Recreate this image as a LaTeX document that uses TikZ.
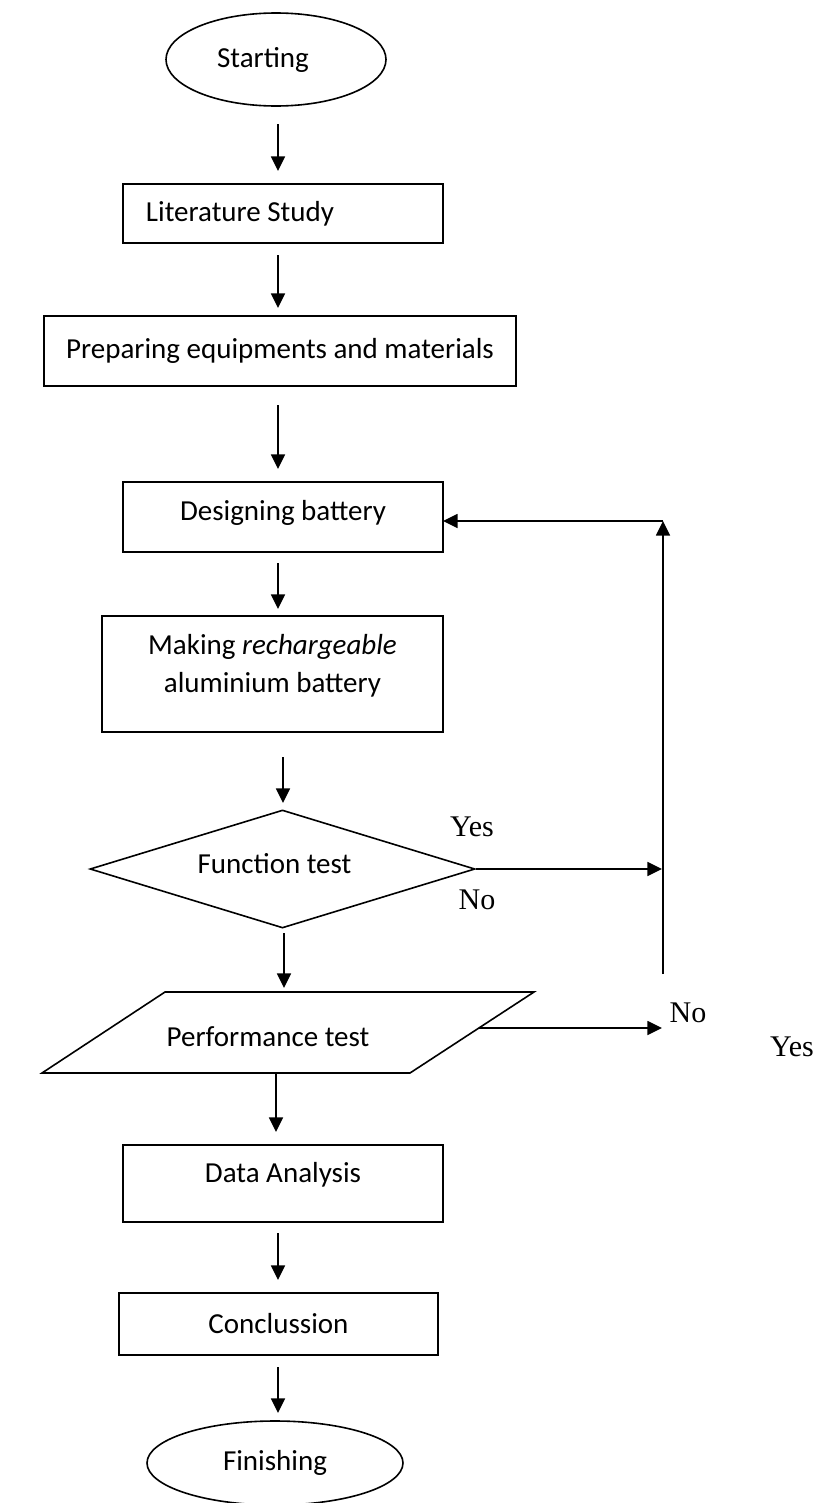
\documentclass[tikz,border=0pt]{standalone}
\usepackage{fontspec}
\setmainfont{Carlito}
\newfontfamily\tnr{Liberation Serif}
\usetikzlibrary{shapes.geometric,arrows.meta}
\begin{document}
\begin{tikzpicture}[x=0.75pt,y=-0.75pt,
  every node/.style={font=\fontsize{21.75}{28.5}\selectfont},
  box/.style={draw,line width=1.2pt,rectangle,inner sep=0pt},
  oval/.style={draw,line width=1.2pt,ellipse,inner sep=0pt},
  dia/.style={draw,line width=1.2pt,diamond,inner sep=0pt},
  arr/.style={line width=1.2pt,-{Triangle[length=11pt,width=10.5pt]}},
  ln/.style={line width=1.2pt},
  yn/.style={font=\tnr\fontsize{22.5}{27}\selectfont, inner sep=0pt}]
\useasboundingbox (0,0) rectangle (819,1503);

% nodes
\node[oval,minimum width=165pt,minimum height=69.75pt,label={[xshift=-9.75pt]center:Starting}] (start) at (276,59.5) {};
\node[box,minimum width=240pt,minimum height=44.25pt,label={[xshift=-32.25pt]center:Literature Study}] (lit) at (283,213.5) {};
\node[box,minimum width=354pt,minimum height=52.5pt] (prep) at (280,351) {Preparing equipments and materials};
\node[box,minimum width=240pt,minimum height=52.5pt,label={[yshift=3pt]center:Designing battery}] (des) at (283,517) {};
\node[box,minimum width=255.75pt,minimum height=87pt,label={[align=center,yshift=6pt]center:Making \textit{rechargeable}\\aluminium battery}] (make) at (272.5,674) {};
\node[dia,minimum width=288.75pt,minimum height=88.5pt,label={[xshift=-6pt,yshift=3.75pt]center:Function test}] (func) at (282.5,869) {};
\coordinate (p1) at (165,992);
\coordinate (p2) at (534,992);
\coordinate (p3) at (410,1073);
\coordinate (p4) at (42,1073);
\draw[ln] (p1) -- (p2) -- (p3) -- (p4) -- cycle;
\node[inner sep=0pt] (perf) at (268,1037) {Performance test};
\node[box,minimum width=240pt,minimum height=57.75pt,label={[yshift=6.4pt]center:Data Analysis}] (data) at (283,1183.5) {};
\node[box,minimum width=239.25pt,minimum height=46.5pt] (concl) at (278.5,1324) {Conclussion};
\node[oval,minimum width=192pt,minimum height=63pt] (fin) at (275,1463) {Finishing};

% labels
\node[yn] (yes1) at (472,827) {Yes};
\node[yn] (no1) at (477,900) {No};
\node[yn] (no2) at (688,1013) {No};
\node[yn] (yes2) at (792,1047) {Yes};

% arrow end points
\coordinate (a1s) at (278,124);  \coordinate (a1e) at (278,171);
\coordinate (a2s) at (278,255);  \coordinate (a2e) at (278,308);
\coordinate (a3s) at (278,405);  \coordinate (a3e) at (278,469);
\coordinate (a4s) at (278,563);  \coordinate (a4e) at (278,609);
\coordinate (a5s) at (283,757);  \coordinate (a5e) at (283,803);
\coordinate (a6s) at (284,933);  \coordinate (a6e) at (284,988);
\coordinate (a7s) at (276,1073); \coordinate (a7e) at (276,1132);
\coordinate (a8s) at (278,1233); \coordinate (a8e) at (278,1280);
\coordinate (a9s) at (278,1367); \coordinate (a9e) at (278,1413);
\coordinate (ptr) at (479,1028);
\coordinate (yesj) at (662,869);
\coordinate (noj) at (662,1028);
\coordinate (vb) at (663,974);
\coordinate (vt) at (663,521);
\coordinate (din) at (443,521);

\draw[arr] (a1s) -- (a1e);
\draw[arr] (a2s) -- (a2e);
\draw[arr] (a3s) -- (a3e);
\draw[arr] (a4s) -- (a4e);
\draw[arr] (a5s) -- (a5e);
\draw[arr] (a6s) -- (a6e);
\draw[arr] (a7s) -- (a7e);
\draw[arr] (a8s) -- (a8e);
\draw[arr] (a9s) -- (a9e);
\draw[arr] (func.east) -- (yesj);
\draw[arr] (ptr) -- (noj);
\draw[arr] (vb) -- (vt);
\draw[arr] (vt) -- (din);
\end{tikzpicture}
\end{document}
